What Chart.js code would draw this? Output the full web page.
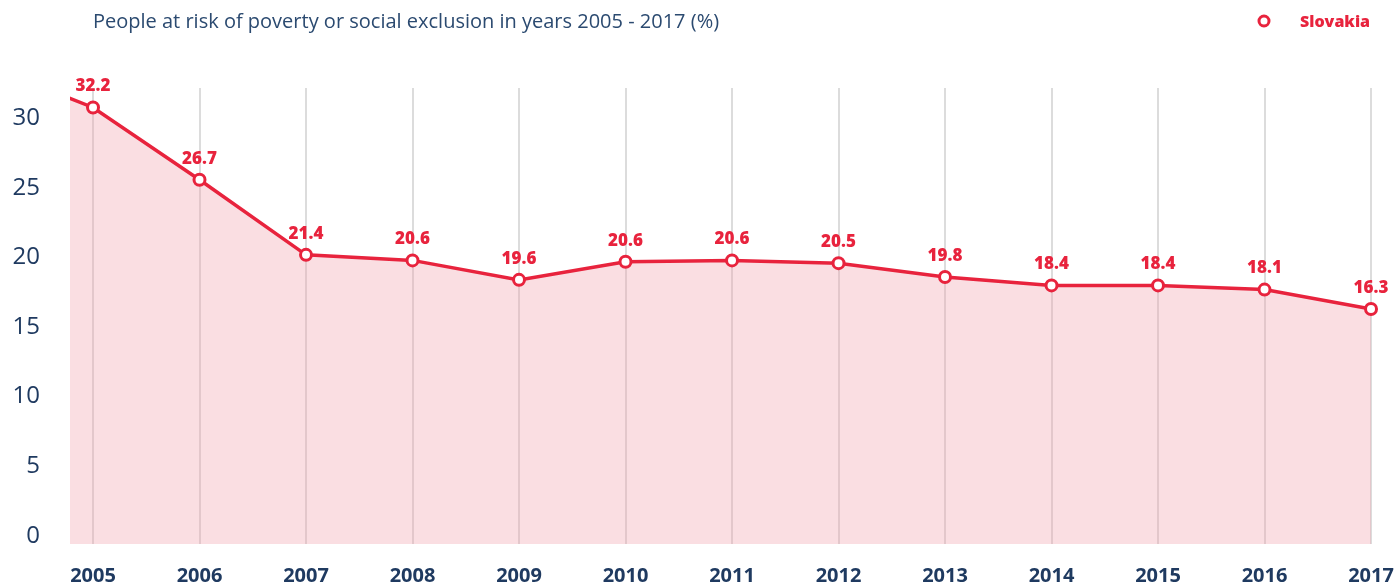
<!DOCTYPE html>
<html>
<head>
<meta charset="utf-8">
<script src="https://cdn.jsdelivr.net/npm/chart.js@4/dist/chart.umd.min.js"></script>
<style>
  html, body { margin: 0; padding: 0; background: #fff; }
  #wrap { position: relative; width: 1397px; height: 585px; }
</style>
</head>
<body>
<div id="wrap"><canvas id="povertyChart" width="1397" height="585"></canvas></div>
<script>
// values
const years = [2005, 2006, 2007, 2008, 2009, 2010, 2011, 2012, 2013, 2014, 2015, 2016, 2017];
const slovakia = [30.8, 25.6, 20.2, 19.8, 18.4, 19.7, 19.8, 19.6, 18.6, 18.0, 18.0, 17.7, 16.3];
const valueLabels = ['32.2', '26.7', '21.4', '20.6', '19.6', '20.6', '20.6', '20.5', '19.8', '18.4', '18.4', '18.1', '16.3'];
// the line comes in from the left edge (cut off) before 2005
const leadInYear = 2004;
const leadInValue = 33.8;
const yTicks = [0, 5, 10, 15, 20, 25, 30];

const titleText = 'People at risk of poverty or social exclusion in years 2005 - 2017 (%)';
const seriesName = 'Slovakia';

const red = '#e8233d';
const navy = '#1f3a60';
const font = '"Open Sans"';

const points = [{ x: leadInYear, y: leadInValue }].concat(
    years.map((yr, i) => ({ x: yr, y: slovakia[i] }))
);

const headerAndLabels = {
    id: 'headerAndLabels',
    afterDatasetsDraw(chart) {
        const ctx = chart.ctx;
        const meta = chart.getDatasetMeta(0);
        ctx.save();
        ctx.fillStyle = red;
        ctx.font = '800 17px ' + font;
        ctx.textAlign = 'center';
        ctx.textBaseline = 'middle';
        meta.data.forEach((pt, i) => {
            if (i === 0) return;
            ctx.fillText(valueLabels[i - 1], pt.x, pt.y - 21);
        });
        ctx.restore();
    },
    afterDraw(chart) {
        const ctx = chart.ctx;
        ctx.save();
        // title
        ctx.fillStyle = '#2b4a70';
        ctx.font = '20px ' + font;
        ctx.textAlign = 'left';
        ctx.textBaseline = 'middle';
        ctx.fillText(titleText, 93, 22);
        // legend
        ctx.beginPath();
        ctx.arc(1264, 21, 5, 0, Math.PI * 2);
        ctx.strokeStyle = red;
        ctx.lineWidth = 3;
        ctx.stroke();
        ctx.fillStyle = red;
        ctx.font = '800 16px ' + font;
        ctx.fillText(seriesName, 1300, 22);
        ctx.restore();
    }
};

new Chart(document.getElementById('povertyChart').getContext('2d'), {
    type: 'line',
    data: {
        datasets: [{
            label: seriesName,
            data: points,
            borderColor: red,
            borderWidth: 3.5,
            backgroundColor: 'rgba(240, 160, 172, 0.35)',
            fill: 'start',
            tension: 0,
            pointRadius: points.map((p, i) => i === 0 ? 0 : 5.5),
            pointBorderWidth: 3,
            pointBackgroundColor: '#fff',
            pointBorderColor: red
        }]
    },
    options: {
        responsive: false,
        animation: false,
        layout: { padding: { top: 88, right: 18, left: 0, bottom: 0 } },
        plugins: {
            legend: { display: false },
            title: { display: false },
            tooltip: { enabled: false }
        },
        scales: {
            x: {
                type: 'linear',
                min: 2004.784,
                max: 2017.075,
                afterBuildTicks: axis => { axis.ticks = years.map(v => ({ value: v })); },
                afterFit: axis => { axis.height = 41; axis.paddingLeft = 0; axis.paddingRight = 0; },
                ticks: {
                    callback: v => String(v),
                    color: navy,
                    font: { family: font, size: 20, weight: 'bold' },
                    padding: 20,
                    maxRotation: 0,
                    autoSkip: false
                },
                grid: { color: '#dcdcdc', lineWidth: 2, drawTicks: false },
                border: { display: false }
            },
            y: {
                min: -0.6,
                max: 32.2,
                afterBuildTicks: axis => { axis.ticks = yTicks.map(v => ({ value: v })); },
                afterFit: axis => { axis.width = 70; axis.paddingTop = 0; axis.paddingBottom = 0; },
                ticks: {
                    color: navy,
                    font: { family: font, size: 24 },
                    padding: 30
                },
                grid: { display: false, drawTicks: false },
                border: { display: false }
            }
        }
    },
    plugins: [headerAndLabels]
});
</script>
</body>
</html>
